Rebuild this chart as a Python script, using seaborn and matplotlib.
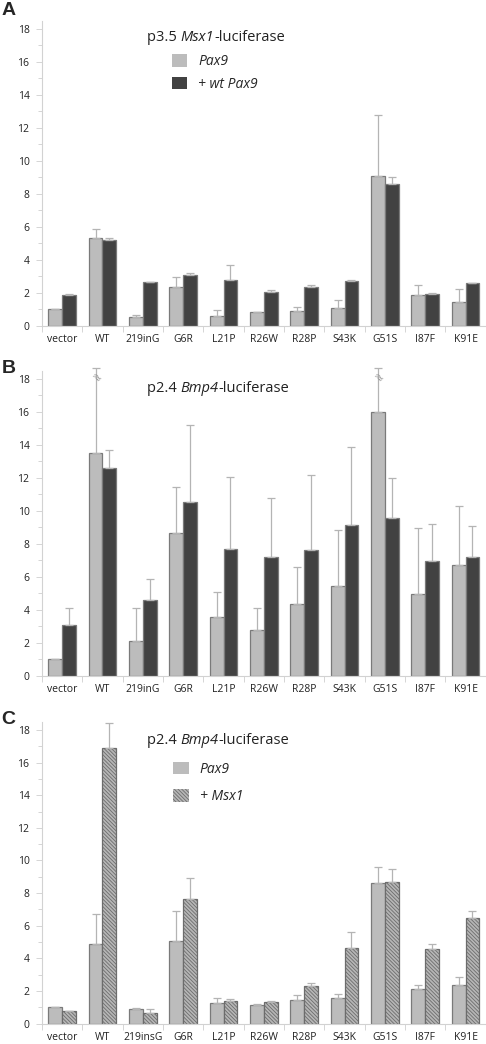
import numpy as np
import pandas as pd
import seaborn as sns
import matplotlib.pyplot as plt
from matplotlib.patches import Patch

# ---- data ----
mutants_a = ['vector', 'WT', '219inG', 'G6R', 'L21P', 'R26W', 'R28P', 'S43K', 'G51S', 'I87F', 'K91E']
mutants_c = ['vector', 'WT', '219insG', 'G6R', 'L21P', 'R26W', 'R28P', 'S43K', 'G51S', 'I87F', 'K91E']

# panel A: p3.5 Msx1-luciferase
a_pax9 = [1.0, 5.35, 0.5, 2.35, 0.62, 0.82, 0.92, 1.1, 9.1, 1.85, 1.45]
a_pax9_err = [1.0, 5.85, 0.65, 2.95, 0.95, 0.85, 1.15, 1.57, 12.8, 2.5, 2.2]
a_wt = [1.85, 5.2, 2.65, 3.07, 2.8, 2.05, 2.36, 2.69, 8.62, 1.9, 2.59]
a_wt_err = [1.92, 5.3, 2.66, 3.2, 3.68, 2.15, 2.46, 2.8, 9.03, 2.0, 2.6]

# panel B: p2.4 Bmp4-luciferase
b_pax9 = [1.0, 13.53, 2.1, 8.67, 3.54, 2.75, 4.32, 5.41, 15.97, 4.93, 6.73]
b_pax9_err = [1.0, 18.66, 4.08, 11.45, 5.05, 4.1, 6.6, 8.85, 18.66, 8.98, 10.3]
b_wt = [3.05, 12.58, 4.57, 10.55, 7.66, 7.19, 7.62, 9.12, 9.59, 6.98, 7.17]
b_wt_err = [4.12, 13.67, 5.88, 15.2, 12.05, 10.8, 12.14, 13.87, 12.0, 9.22, 9.1]

# panel C: p2.4 Bmp4-luciferase with Msx1
c_pax9 = [1.0, 4.86, 0.9, 5.04, 1.3, 1.14, 1.45, 1.59, 8.61, 2.14, 2.35]
c_pax9_err = [1.02, 6.74, 0.96, 6.92, 1.55, 1.24, 1.74, 1.8, 9.62, 2.35, 2.87]
c_msx1 = [0.79, 16.9, 0.63, 7.67, 1.39, 1.35, 2.29, 4.61, 8.71, 4.57, 6.45]
c_msx1_err = [0.8, 18.4, 0.92, 8.95, 1.5, 1.4, 2.47, 5.65, 9.45, 4.87, 6.92]

LIGHT = '#bcbcbc'
DARK = '#424242'
EDGE = '#7a7a7a'
ERRC = '#b4b4b4'
HATCH = '\\' * 9
HFACE = '#b6b6b6'
HEDGE = '#6c6c6c'

sns.set_style('white')
plt.rcParams['font.family'] = ['Open Sans', 'DejaVu Sans']
plt.rcParams['hatch.linewidth'] = 0.6

fig = plt.figure(figsize=(4.86, 10.44), dpi=100)
ax_a = fig.add_axes([0.0864, 0.688, 0.913, 0.2922])
ax_b = fig.add_axes([0.0864, 0.3528, 0.913, 0.2922])
ax_c = fig.add_axes([0.0864, 0.0194, 0.913, 0.2893])


def panel(ax, labels, v1, e1, v2, e2, names, hatch2=False):
    df = pd.DataFrame({
        'mutant': labels * 2,
        'value': v1 + v2,
        'group': [names[0]] * len(labels) + [names[1]] * len(labels),
    })
    second = LIGHT if hatch2 else DARK
    sns.barplot(data=df, x='mutant', y='value', hue='group',
                palette=[LIGHT, second], width=0.69, gap=0,
                edgecolor=EDGE, linewidth=0.9, legend=False, ax=ax)
    n = len(labels)
    bars = ax.patches
    if hatch2:
        for p in bars[n:]:
            p.set_hatch(HATCH)
            p.set_facecolor(HFACE)
            p.set_edgecolor(HEDGE)
    tops = list(e1) + list(e2)
    for p, top in zip(bars, tops):
        xc = p.get_x() + p.get_width() / 2
        h = p.get_height()
        ax.errorbar(xc, h, yerr=[[0], [top - h]], fmt='none', ecolor=ERRC,
                    elinewidth=0.9, capsize=2.6, capthick=0.9, zorder=1)
    ax.set_ylim(0, 18.5)
    ax.set_xlim(-0.5, n - 0.5)
    ax.set_yticks(np.arange(0, 19, 2))
    ax.set_yticks(np.arange(1, 19, 2), minor=True)
    ax.set_xticks(np.arange(-0.5, n, 1), minor=True)
    ax.tick_params(axis='x', which='major', length=0, pad=6, labelsize=7.5, labelcolor='#222')
    ax.tick_params(axis='x', which='minor', length=4, width=0.6, color='#cfcfcf', direction='out', bottom=True)
    ax.tick_params(axis='y', which='major', length=4, width=0.6, color='#cfcfcf', direction='out', left=True, pad=5,
                   labelsize=7.5, labelcolor='#222')
    ax.tick_params(axis='y', which='minor', length=3, width=0.6, color='#cfcfcf', direction='out', left=True)
    ax.set_xlabel('')
    ax.set_ylabel('')
    for s in ['top', 'right']:
        ax.spines[s].set_visible(False)
    for s in ['left', 'bottom']:
        ax.spines[s].set_color('#d2d2d2')
        ax.spines[s].set_linewidth(0.8)
    for line in ax.lines:
        line.set_clip_on(False)
    for coll in ax.collections:
        coll.set_clip_on(False)
    return bars


panel(ax_a, mutants_a, a_pax9, a_pax9_err, a_wt, a_wt_err, ['Pax9', '+ wt Pax9'])
bars_b = panel(ax_b, mutants_a, b_pax9, b_pax9_err, b_wt, b_wt_err, ['Pax9', '+ wt Pax9'])
panel(ax_c, mutants_c, c_pax9, c_pax9_err, c_msx1, c_msx1_err, ['Pax9', '+ Msx1'], hatch2=True)

# break marks on the truncated error bars in B
for p, top in zip(bars_b[:11], b_pax9_err):
    if top > 18.5:
        ax_b.text(p.get_x() + p.get_width() / 2, 18.05, '≈', rotation=-40, ha='center', va='center',
                  fontsize=9, color='#9a9a9a', family='DejaVu Sans', clip_on=False)


def title(ax, y, pre, it, post):
    t1 = ax.text(0.237, y, pre, transform=ax.transAxes, fontsize=10.5, va='baseline', ha='left', color='#222')
    t2 = ax.annotate(it, xy=(1, 0), xycoords=t1, va='bottom', ha='left', fontsize=10.5,
                     style='italic', color='#222')
    ax.annotate(post, xy=(1, 0), xycoords=t2, va='bottom', ha='left', fontsize=10.5, color='#222')


title(ax_a, 0.933, 'p3.5 ', 'Msx1', '-luciferase')
title(ax_b, 0.929, 'p2.4 ', 'Bmp4', '-luciferase')
title(ax_c, 0.926, 'p2.4 ', 'Bmp4', '-luciferase')

h_a = [Patch(facecolor=LIGHT, edgecolor='none'), Patch(facecolor=DARK, edgecolor='none')]
ax_a.legend(h_a, ['Pax9', '+ wt Pax9'], loc='upper left', bbox_to_anchor=(0.293, 0.89),
            frameon=False, borderpad=0, borderaxespad=0, handlelength=1.1, handleheight=1.0,
            handletextpad=0.8, labelspacing=0.55, prop={'style': 'italic', 'size': 10})

h_c = [Patch(facecolor=LIGHT, edgecolor='none'),
       Patch(facecolor=HFACE, edgecolor=HEDGE, hatch=HATCH, linewidth=0)]
ax_c.legend(h_c, ['Pax9', '+ Msx1'], loc='upper left', bbox_to_anchor=(0.296, 0.868),
            frameon=False, borderpad=0, borderaxespad=0, handlelength=1.1, handleheight=1.0,
            handletextpad=0.8, labelspacing=0.9, prop={'style': 'italic', 'size': 10})

for letter, y in [('A', 0.9904), ('B', 0.6466), ('C', 0.3113)]:
    fig.text(0.003, y, letter, fontsize=14, fontweight='bold', family='Liberation Sans',
             va='center', ha='left')

fig.savefig('out.png', dpi=100)
